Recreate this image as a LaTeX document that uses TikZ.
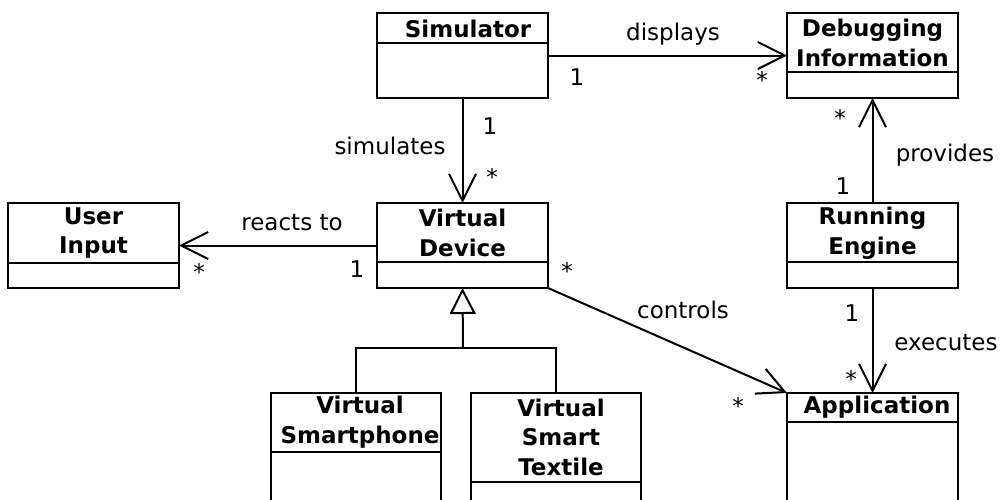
\documentclass[tikz,border=0pt]{standalone}
\usepackage{fontspec}
\setmainfont{DejaVu Sans}
\usetikzlibrary{arrows.meta}
\tikzset{
  cls/.style={draw, line width=2pt, rectangle, anchor=north west, inner sep=0pt, outer sep=0pt},
  cname/.style={font=\fontsize{23}{29.5}\selectfont\bfseries, align=center, inner sep=0pt},
  lbl/.style={font=\fontsize{23}{28}\selectfont, inner sep=0pt},
  assoc/.style={draw, line width=2pt, -{Straight Barb[length=27pt, width=27pt]}},
  gen/.style={draw, line width=2pt, -{Triangle[open, length=26pt, width=26pt, fill=white]}},
  plain/.style={draw, line width=2pt}
}
\begin{document}
\begin{tikzpicture}[x=1pt, y=-1pt]
\useasboundingbox (0,0) rectangle (1002,499);
\fill[white] (0,0) rectangle (1002,499);
% classes
\node[cls, minimum width=171pt, minimum height=85pt] (sim) at (377,13) {};
\node[cls, minimum width=171pt, minimum height=85pt] (dbg) at (787,13) {};
\node[cls, minimum width=171pt, minimum height=85pt] (ui) at (8,203) {};
\node[cls, minimum width=171pt, minimum height=85pt] (vd) at (377,203) {};
\node[cls, minimum width=171pt, minimum height=85pt] (re) at (787,203) {};
\node[cls, minimum width=170pt, minimum height=140pt] (sp) at (271,393) {};
\node[cls, minimum width=170pt, minimum height=140pt] (tx) at (471,393) {};
\node[cls, minimum width=171pt, minimum height=140pt] (app) at (787,393) {};
% dividers
\draw[plain] (sim.west |- 0,43) -- (sim.east |- 0,43);
\draw[plain] (dbg.west |- 0,72) -- (dbg.east |- 0,72);
\draw[plain] (ui.west |- 0,263) -- (ui.east |- 0,263);
\draw[plain] (vd.west |- 0,262) -- (vd.east |- 0,262);
\draw[plain] (re.west |- 0,262) -- (re.east |- 0,262);
\draw[plain] (sp.west |- 0,452) -- (sp.east |- 0,452);
\draw[plain] (tx.west |- 0,482) -- (tx.east |- 0,482);
\draw[plain] (app.west |- 0,422) -- (app.east |- 0,422);
% class names
\node[cname] (tsim) at (468,29) {Simulator};
\node[cname] (tdbg) at (872.5,43) {Debugging\\Information};
\node[cname] (tui) at (93.5,233) {User\\Input};
\node[cname] (tvd) at (462.5,233) {Virtual\\Device};
\node[cname] (tre) at (872.5,233) {Running\\Engine};
\node[cname] (tsp) at (360,422) {Virtual\\Smartphone};
\node[cname] (ttx) at (561,437) {Virtual\\Smart\\Textile};
\node[cname] (tapp) at (877,407) {Application};
% associations
\draw[assoc] (sim.east) -- (dbg.west);
\draw[assoc] (sim.south) -- (vd.north);
\draw[assoc] (vd.west) -- (ui.east);
\draw[assoc] (re.north) -- (dbg.south);
\draw[assoc] (re.south) -- (app.north);
\draw[assoc] (vd.south east) -- (app.north west);
% generalization
\coordinate (jn) at (463,348);
\draw[gen] (jn) -- (vd.south);
\draw[plain] (sp.north) -- (sp.north |- jn) -- (tx.north |- jn) -- (tx.north);
% labels
\node[lbl] (l1) at (673,34) {displays};
\node[lbl] (l2) at (577,77) {1};
\node[lbl] (l3) at (762,80) {*};
\node[lbl] (l4) at (490,126) {1};
\node[lbl] (l5) at (390,146) {simulates};
\node[lbl] (l6) at (492,177) {*};
\node[lbl] (l7) at (292,223) {reacts to};
\node[lbl] (l8) at (357,269) {1};
\node[lbl] (l9) at (199,272) {*};
\node[lbl] (l10) at (840,118) {*};
\node[lbl] (l11) at (945,155) {provides};
\node[lbl] (l12) at (843,186) {1};
\node[lbl] (l13) at (852,313) {1};
\node[lbl] (l14) at (946,343) {executes};
\node[lbl] (l15) at (851,379) {*};
\node[lbl] (l16) at (683,310) {controls};
\node[lbl] (l17) at (567,271) {*};
\node[lbl] (l18) at (738,406) {*};
\end{tikzpicture}
\end{document}
